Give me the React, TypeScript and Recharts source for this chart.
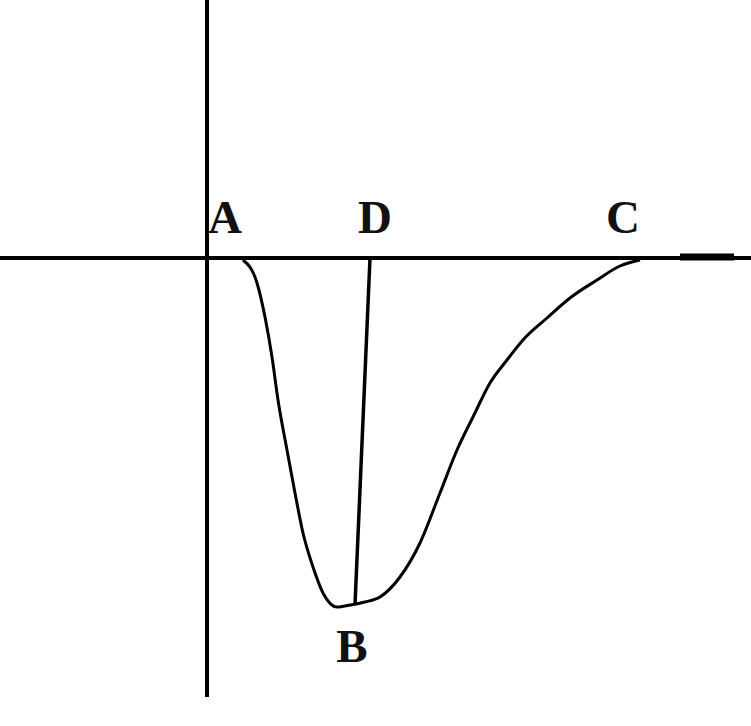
import { ComposedChart, Line, XAxis, YAxis, ReferenceLine, Scatter } from 'recharts';

// curve A -> B -> C, x measured from the vertical axis, y from the horizontal axis
const curvePoints = [
  { x: 36, y: -2 },
  { x: 50, y: -25 },
  { x: 58, y: -59 },
  { x: 65, y: -99 },
  { x: 71, y: -142 },
  { x: 80, y: -192 },
  { x: 88, y: -235 },
  { x: 96, y: -275 },
  { x: 106, y: -309 },
  { x: 116, y: -335 },
  { x: 130, y: -349 },
  { x: 143, y: -347 },
  { x: 158, y: -344 },
  { x: 173, y: -339 },
  { x: 193, y: -319 },
  { x: 213, y: -285 },
  { x: 233, y: -235 },
  { x: 250, y: -192 },
  { x: 266, y: -159 },
  { x: 283, y: -125 },
  { x: 300, y: -102 },
  { x: 316, y: -82 },
  { x: 340, y: -60 },
  { x: 363, y: -40 },
  { x: 390, y: -22 },
  { x: 413, y: -8 },
  { x: 433, y: -2 },
];

// line from D down to B
const dbPoints = [
  { x: 163, y: 0 },
  { x: 148, y: -347 },
];

const pointLabels = [
  { x: 18, y: 25, name: 'A' },
  { x: 168, y: 25, name: 'D' },
  { x: 416, y: 25, name: 'C' },
  { x: 145, y: -404, name: 'B' },
];

const LabelMark = (props: any) => {
  const { cx, cy, payload } = props;
  return (
    <text
      x={cx}
      y={cy}
      textAnchor="middle"
      fontFamily="'Liberation Serif', 'DejaVu Serif', serif"
      fontWeight="bold"
      fontSize={47}
      fill="#111"
    >
      {payload.name}
    </text>
  );
};

export default function App() {
  return (
    <div style={{ position: 'absolute', left: 0, top: 0, width: 751, height: 726, background: '#fff' }}>
      <ComposedChart width={751} height={726} margin={{ top: 0, right: 0, bottom: 0, left: 0 }}>
        <XAxis type="number" dataKey="x" domain={[-207, 544]} hide allowDataOverflow />
        <YAxis type="number" dataKey="y" domain={[-468, 258]} hide allowDataOverflow />
        <ReferenceLine y={0} stroke="#000" strokeWidth={4} />
        <ReferenceLine
          segment={[{ x: 0, y: 258 }, { x: 0, y: -439 }]}
          stroke="#000"
          strokeWidth={4}
        />
        <ReferenceLine
          segment={[{ x: 473, y: 1 }, { x: 527, y: 1 }]}
          stroke="#000"
          strokeWidth={7}
        />
        <Line
          data={curvePoints}
          dataKey="y"
          type="monotone"
          stroke="#000"
          strokeWidth={3}
          dot={false}
          isAnimationActive={false}
        />
        <Line
          data={dbPoints}
          dataKey="y"
          type="linear"
          stroke="#000"
          strokeWidth={3.5}
          dot={false}
          isAnimationActive={false}
        />
        <Scatter data={pointLabels} dataKey="y" shape={LabelMark} isAnimationActive={false} />
      </ComposedChart>
    </div>
  );
}
